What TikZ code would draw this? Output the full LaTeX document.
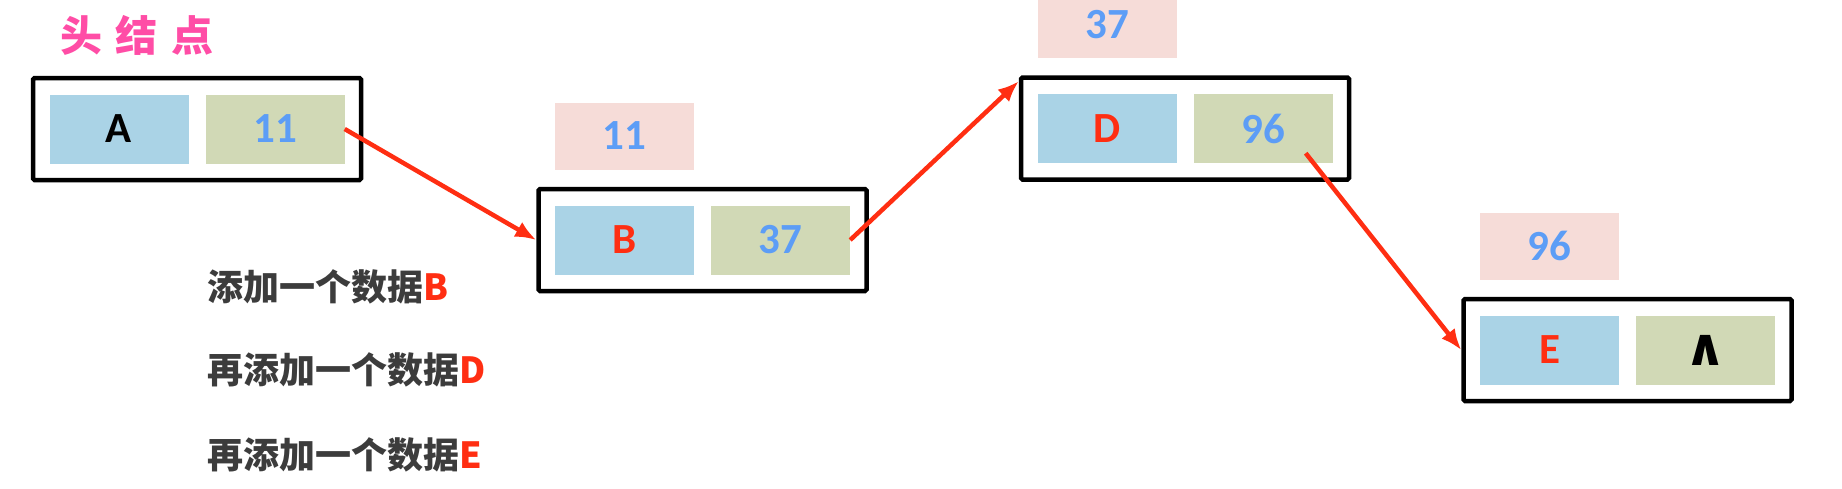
\documentclass[tikz,border=0pt]{standalone}
\usepackage{fontspec}
\setmainfont{Carlito}
\newfontfamily\cjk{Noto Sans CJK SC}
\newfontfamily\symfont{DejaVu Sans}
\usepackage{xcolor}
\usetikzlibrary{arrows.meta}
\definecolor{cellblue}{HTML}{AAD3E6}
\definecolor{cellgreen}{HTML}{D1D9B6}
\definecolor{cellpink}{HTML}{F6DCD8}
\definecolor{numblue}{HTML}{5C9DF6}
\definecolor{linkred}{HTML}{FF2E12}
\definecolor{titlepink}{HTML}{FF4DA6}
\definecolor{notegray}{HTML}{3C3C3C}

\begin{document}
\begin{tikzpicture}
	[x=1pt, y=-1pt, node distance={78pt},
	outer/.style = {draw, line width=4.5pt, rounded corners=1.5pt, minimum width=328pt, minimum height=102pt, inner sep=0pt},
	cell/.style = {minimum width=139pt, minimum height=69pt, inner sep=0pt, font=\fontsize{43}{43}\selectfont\bfseries},
	datacell/.style = {cell, fill=cellblue, text=linkred},
	nextcell/.style = {cell, fill=cellgreen, text=numblue},
	addr/.style = {cell, fill=cellpink, text=numblue, minimum height=67pt},
	note/.style = {anchor=west, inner sep=0pt, text=notegray, font=\cjk\fontsize{36}{36}\selectfont\bfseries},
	link/.style = {draw=linkred, line width=4.5pt, -{Latex[length=21pt,width=17pt]}}]
	\useasboundingbox (0,0) rectangle (1842,488);
	\node (title) at (137,35) [text=titlepink, font=\cjk\fontsize{42}{42}\selectfont\bfseries] {头\hspace{14pt}结\hspace{14pt}点};
	% head node
	\node[outer] (boxA) at (197,129) {};
	\node[datacell, text=black] (dataA) [left of = boxA] {A};
	\node[nextcell] (nextA) [right of = boxA] {11};
	% node B
	\node[outer] (boxB) at (702.5,240) {};
	\node[datacell] (dataB) [left of = boxB] {B};
	\node[nextcell] (nextB) [right of = boxB] {37};
	\node[addr] (addrB) [above of = dataB, node distance={104pt}] {11};
	% node D
	\node[outer] (boxD) at (1185,128.5) {};
	\node[datacell] (dataD) [left of = boxD] {D};
	\node[nextcell] (nextD) [right of = boxD] {96};
	\node[addr] (addrD) [above of = dataD, node distance={104pt}] {37};
	% node E
	\node[outer] (boxE) at (1627.5,350) {};
	\node[datacell] (dataE) [left of = boxE] {E};
	\node[nextcell, text=black, font=\symfont\fontsize{52}{52}\selectfont\bfseries] (nextE) [right of = boxE] {∧};
	\node[addr] (addrE) [above of = dataE, node distance={104pt}] {96};
	\draw[link] (nextA.east) -- (boxB.west);
	\draw[link] (nextB.east) -- ([yshift=-6pt]boxD.north west);
	\draw[link] ([xshift=-27pt,yshift=10pt]nextD.south east) -- (boxE.west);
	\node[note] (noteB) at (207,287) {添加一个数据\textcolor{linkred}{B}};
	\node[note] (noteD) at (207,370) {再添加一个数据\textcolor{linkred}{D}};
	\node[note] (noteE) at (207,455) {再添加一个数据\textcolor{linkred}{E}};
\end{tikzpicture}
\end{document}
